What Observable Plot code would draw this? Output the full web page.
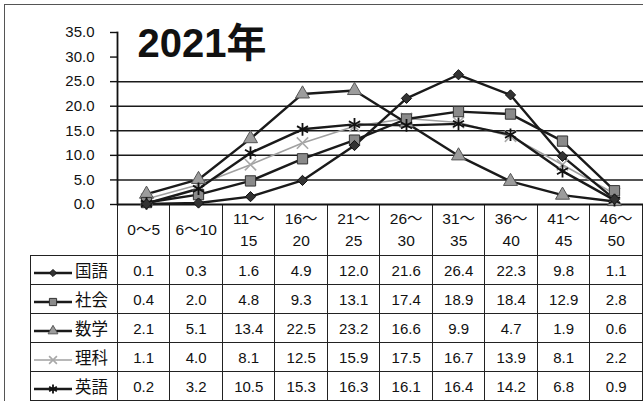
<!DOCTYPE html>
<html><head><meta charset="utf-8">
<script src="https://cdn.jsdelivr.net/npm/d3@7"></script>
<script src="https://cdn.jsdelivr.net/npm/@observablehq/plot@0.6"></script>
<style>
html,body{margin:0;padding:0;background:#fff;}
#wrap{position:relative;width:643px;height:401px;overflow:hidden;background:#fff;font-family:"Liberation Sans",Arial,"Noto Sans CJK JP",sans-serif;color:#111;}
#frame{position:absolute;left:4px;top:4px;width:700px;height:500px;border-left:1.5px solid #555;border-top:1.5px solid #555;pointer-events:none;}
#chart{position:absolute;left:0;top:0;}
table{position:absolute;left:30px;top:204px;border-collapse:collapse;table-layout:fixed;font-size:15px;}
td{border:1.5px solid #222;text-align:center;padding:0;white-space:nowrap;}
td.blank{border-left:none;border-top:none;border-bottom:1.5px solid #222;}
tr.head td{height:51px;line-height:22px;font-size:15.5px;border-top:none;}
tr.row td{height:28px;}
td.lab{text-align:left;font-family:"Noto Sans CJK JP";font-size:16.5px;padding-left:2px;}
td.lab svg{vertical-align:middle;margin-right:2px;}
</style></head>
<body>
<div id="wrap">
<table id="tbl"></table>
<div id="chart"></div>
<div id="frame"></div>
</div>
<script>
const categories = ["0～5","6～10","11～15","16～20","21～25","26～30","31～35","36～40","41～45","46～50"];
const seriesNames = ["国語","社会","数学","理科","英語"];
const kokugo = [0.1,0.3,1.6,4.9,12.0,21.6,26.4,22.3,9.8,1.1];
const shakai = [0.4,2.0,4.8,9.3,13.1,17.4,18.9,18.4,12.9,2.8];
const sugaku = [2.1,5.1,13.4,22.5,23.2,16.6,9.9,4.7,1.9,0.6];
const rika   = [1.1,4.0,8.1,12.5,15.9,17.5,16.7,13.9,8.1,2.2];
const eigo   = [0.2,3.2,10.5,15.3,16.3,16.1,16.4,14.2,6.8,0.9];
const yTicks = [0,5,10,15,20,25,30,35];
const chartTitle = "2021年";

const seriesValues = [kokugo, shakai, sugaku, rika, eigo];
const styles = [
  {symbol: d3.symbolDiamond2, r: 4.6, fill: "#333", stroke: "#111", line: "#1a1a1a", lw: 2.4, sw: 1},
  {symbol: "square", r: 5.8, fill: "#8a8a8a", stroke: "#333", line: "#1a1a1a", lw: 2.4, sw: 1},
  {symbol: "triangle", r: 5.2, fill: "#9c9c9c", stroke: "#555", line: "#1a1a1a", lw: 2.4, sw: 1},
  {symbol: "times", r: 5.2, fill: "none", stroke: "#a8a8a8", line: "#a0a0a0", lw: 1.6, sw: 1.6},
  {symbol: "asterisk", r: 6, fill: "none", stroke: "#111", line: "#1a1a1a", lw: 2.4, sw: 1.8}
];

const rows = [];
seriesNames.forEach((s, i) => categories.forEach((c, j) => rows.push({series: s, cat: c, value: seriesValues[i][j]})));

// grid lines under the title are split around it (as in the original)
const lowGrid = yTicks.filter(d => d > 0 && d <= 25);
const highGrid = yTicks.filter(d => d > 25);

const marks = [
  Plot.ruleY(lowGrid, {stroke: "#1a1a1a", strokeWidth: 1.5}),
  Plot.text([chartTitle], {frameAnchor: "top-left", dx: 20, dy: 12, textAnchor: "start", lineAnchor: "middle",
    fontSize: 40, fontWeight: "bold", fill: "#111",
    fontFamily: "'Liberation Sans', Arial, 'Noto Sans CJK JP', sans-serif"}),
  Plot.axisY(yTicks, {tickFormat: d => d.toFixed(1), label: null, tickSize: 7, tickPadding: 16, fontSize: 15, strokeWidth: 1.4, fill: "#111"}),
  Plot.frame({anchor: "left", stroke: "#111", strokeWidth: 1.8}),
  Plot.ruleY([0], {stroke: "#111", strokeWidth: 2})
];
const order = [3, 2, 1, 4, 0];
order.forEach(i => {
  const st = styles[i];
  const data = rows.filter(d => d.series === seriesNames[i]);
  marks.push(Plot.line(data, {x: "cat", y: "value", stroke: st.line, strokeWidth: st.lw}));
});
order.forEach(i => {
  const st = styles[i];
  const data = rows.filter(d => d.series === seriesNames[i]);
  marks.push(Plot.dot(data, {x: "cat", y: "value", symbol: st.symbol, r: st.r, fill: st.fill, stroke: st.stroke, strokeWidth: st.sw}));
});
marks.push(
  Plot.ruleY(highGrid, {y: d => d, x2: () => categories[0], insetRight: 20, stroke: "#000", strokeWidth: 1.8}),
  Plot.ruleY(highGrid, {y: d => d, x1: () => categories[3], insetLeft: -18, stroke: "#000", strokeWidth: 1.8})
);

const plot = Plot.plot({
  width: 643, height: 206,
  marginLeft: 117, marginRight: 0, marginTop: 32, marginBottom: 2,
  style: {fontFamily: "'Liberation Sans', Arial, sans-serif", overflow: "visible"},
  x: {type: "point", domain: categories, padding: 0.5, axis: null},
  y: {domain: [0, 35], axis: null},
  marks
});
document.getElementById("chart").appendChild(plot);

// data table (legend + values)
const tbl = document.getElementById("tbl");
const colg = document.createElement("colgroup");
const c0 = document.createElement("col"); c0.style.width = "87px"; colg.appendChild(c0);
categories.forEach(() => { const c = document.createElement("col"); c.style.width = "52.6px"; colg.appendChild(c); });
tbl.appendChild(colg);
const hr = document.createElement("tr"); hr.className = "head";
const blank = document.createElement("td"); blank.className = "blank"; hr.appendChild(blank);
categories.forEach(c => {
  const td = document.createElement("td");
  const [a, b] = c.split("～");
  td.innerHTML = c.length > 4 ? a + "～<br>" + b : c;
  hr.appendChild(td);
});
tbl.appendChild(hr);
seriesNames.forEach((s, i) => {
  const st = styles[i];
  const tr = document.createElement("tr"); tr.className = "row";
  const lab = document.createElement("td"); lab.className = "lab";
  const sym = typeof st.symbol === "string" ? {square: d3.symbolSquare, triangle: d3.symbolTriangle, times: d3.symbolTimes, asterisk: d3.symbolAsterisk}[st.symbol] : st.symbol;
  const path = d3.symbol(sym, Math.PI * (st.r * 0.7) ** 2)();
  lab.innerHTML = `<svg width="40" height="14"><line x1="1" x2="39" y1="7" y2="7" stroke="${st.line}" stroke-width="${st.lw}"/><path transform="translate(20,7)" d="${path}" fill="${st.fill}" stroke="${st.stroke}" stroke-width="${st.sw}"/></svg>` + s;
  tr.appendChild(lab);
  seriesValues[i].forEach(v => { const td = document.createElement("td"); td.textContent = v.toFixed(1); tr.appendChild(td); });
  tbl.appendChild(tr);
});
</script>
</body></html>
